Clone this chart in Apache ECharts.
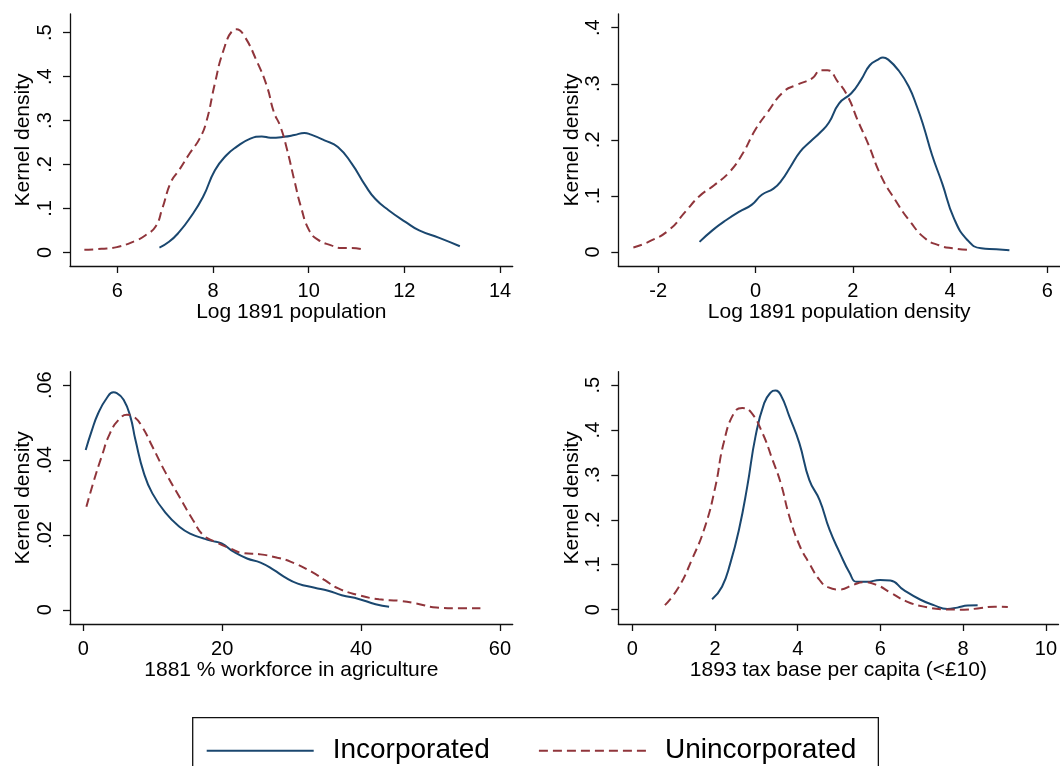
<!DOCTYPE html>
<html>
<head>
<meta charset="utf-8">
<script src="https://cdn.jsdelivr.net/npm/echarts@6/dist/echarts.min.js"></script>
<style>
html,body{margin:0;padding:0;background:#fff;}
#chart{width:1060px;height:766px;}
</style>
</head>
<body>
<div id="chart"></div>
<script>
// ---- Data ----
var seriesNames = ['Incorporated', 'Unincorporated'];
var xTitles = ['Log 1891 population', 'Log 1891 population density', '1881 % workforce in agriculture', '1893 tax base per capita (<£10)'];
var yTitle = 'Kernel density';

var xTicks1 = [6, 8, 10, 12, 14];
var xTicks2 = [-2, 0, 2, 4, 6];
var xTicks3 = [0, 20, 40, 60];
var xTicks4 = [0, 2, 4, 6, 8, 10];
var yTicks1 = [0, 0.1, 0.2, 0.3, 0.4, 0.5];
var yTicks2 = [0, 0.1, 0.2, 0.3, 0.4];
var yTicks3 = [0, 0.02, 0.04, 0.06];
var yTicks4 = [0, 0.1, 0.2, 0.3, 0.4, 0.5];

// Panel 1: Log 1891 population
var p1Inc = [[6.88,0.011],[7.08,0.024],[7.29,0.046],[7.51,0.077],[7.79,0.126],[8.04,0.187],[8.28,0.221],[8.49,0.240],[8.78,0.259],[9.02,0.264],[9.20,0.261],[9.48,0.263],[9.70,0.267],[9.91,0.272],[10.05,0.268],[10.33,0.255],[10.61,0.240],[10.90,0.202],[11.18,0.153],[11.39,0.122],[11.67,0.096],[12.03,0.069],[12.31,0.050],[12.73,0.033],[13.16,0.014]];
var p1Uninc = [[5.31,0.006],[5.67,0.008],[5.99,0.012],[6.37,0.026],[6.59,0.039],[6.80,0.059],[6.94,0.100],[7.12,0.160],[7.29,0.187],[7.51,0.225],[7.72,0.259],[7.86,0.297],[8.04,0.385],[8.21,0.457],[8.42,0.506],[8.49,0.508],[8.64,0.495],[8.92,0.434],[9.13,0.377],[9.27,0.320],[9.41,0.286],[9.55,0.233],[9.70,0.164],[9.84,0.103],[10.01,0.050],[10.19,0.029],[10.47,0.016],[10.69,0.010],[10.90,0.010],[11.11,0.007]];

// Panel 2: Log 1891 population density
var p2Inc = [[-1.15,0.018],[-0.88,0.039],[-0.60,0.057],[-0.33,0.072],[-0.08,0.084],[0.13,0.102],[0.37,0.113],[0.54,0.128],[0.72,0.152],[0.92,0.179],[1.13,0.197],[1.34,0.214],[1.51,0.231],[1.72,0.265],[1.97,0.283],[2.17,0.307],[2.35,0.333],[2.52,0.343],[2.62,0.347],[2.73,0.343],[2.94,0.324],[3.15,0.295],[3.32,0.259],[3.46,0.223],[3.63,0.173],[3.84,0.122],[4.08,0.060],[4.36,0.021],[4.64,0.0065],[4.95,0.005],[5.22,0.003]];
var p2Uninc = [[-2.51,0.008],[-2.20,0.018],[-1.78,0.039],[-1.44,0.072],[-1.16,0.099],[-0.85,0.119],[-0.53,0.143],[-0.26,0.176],[-0.01,0.217],[0.23,0.247],[0.58,0.286],[0.85,0.298],[1.17,0.310],[1.34,0.324],[1.48,0.324],[1.69,0.304],[1.90,0.277],[2.10,0.235],[2.31,0.194],[2.59,0.134],[2.87,0.093],[3.18,0.054],[3.49,0.024],[3.77,0.012],[4.05,0.0065],[4.40,0.0036]];

// Panel 3: 1881 % workforce in agriculture
var p3Inc = [[0.34,0.0427],[1.17,0.0476],[2.14,0.0525],[3.36,0.0565],[4.33,0.0581],[4.82,0.0579],[5.80,0.0561],[6.77,0.0516],[7.50,0.0454],[8.72,0.0365],[9.94,0.0311],[11.88,0.0258],[13.83,0.0222],[15.54,0.0202],[17.24,0.0191],[18.46,0.0184],[19.92,0.0177],[21.63,0.0155],[23.57,0.0137],[25.52,0.0126],[27.47,0.0106],[28.93,0.0088],[30.88,0.0070],[33.32,0.0059],[35.26,0.0051],[37.21,0.0039],[39.65,0.0029],[42.08,0.0015],[44.03,0.0008]];
var p3Uninc = [[0.44,0.0275],[1.41,0.0338],[2.63,0.0409],[3.85,0.0472],[5.07,0.0507],[6.28,0.0521],[7.26,0.0516],[8.47,0.0489],[9.94,0.0436],[11.88,0.0365],[13.83,0.0302],[15.78,0.0240],[17.24,0.0200],[18.94,0.0182],[21.14,0.0164],[23.08,0.0151],[25.52,0.0148],[27.95,0.0139],[29.90,0.0128],[32.83,0.0102],[34.78,0.0079],[36.72,0.0057],[39.65,0.0039],[42.57,0.0028],[45.49,0.0024],[47.93,0.0017],[50.85,0.0006],[53.77,0.0004],[57.18,0.0004]];

// Panel 4: 1893 tax base per capita (<£10)
var p4Inc = [[1.93,0.023],[2.17,0.051],[2.37,0.103],[2.58,0.178],[2.78,0.274],[2.98,0.386],[3.19,0.460],[3.35,0.484],[3.46,0.488],[3.59,0.478],[3.80,0.430],[4.04,0.371],[4.28,0.289],[4.53,0.244],[4.77,0.178],[5.02,0.126],[5.26,0.081],[5.42,0.062],[5.67,0.062],[5.99,0.066],[6.24,0.065],[6.56,0.044],[6.97,0.022],[7.29,0.010],[7.62,0.0015],[7.86,0.0045],[8.11,0.009],[8.35,0.0097]];
var p4Uninc = [[0.79,0.010],[1.11,0.048],[1.44,0.111],[1.76,0.185],[2.01,0.274],[2.21,0.371],[2.46,0.438],[2.66,0.449],[2.86,0.441],[3.15,0.393],[3.39,0.334],[3.59,0.282],[3.80,0.207],[4.04,0.144],[4.28,0.103],[4.53,0.066],[4.73,0.050],[5.02,0.045],[5.34,0.055],[5.59,0.061],[5.91,0.055],[6.24,0.038],[6.64,0.018],[7.05,0.0067],[7.54,0.0007],[8.02,0.0],[8.43,0.0037],[8.76,0.0067],[9.08,0.006]];

// ---- Layout / style ----
var NAVY = '#1a476f', MAROON = '#90353b';
var FONT = '"Liberation Sans", Arial, sans-serif';
var grids = [
  {left: 70,    top: 14,    width: 442.7, height: 252},
  {left: 618.3, top: 14,    width: 442,   height: 252},
  {left: 70,    top: 371.7, width: 442.7, height: 252.3},
  {left: 618.3, top: 371.7, width: 442,   height: 252.3}
];
var xRanges = [[5.01, 14.265], [-2.82, 6.26], [-1.92, 61.83], [-0.337, 10.305]];
var yRanges = [[-0.031, 0.5426], [-0.025, 0.4244], [-0.0038, 0.0636], [-0.032, 0.530]];
var xTickSets = [xTicks1, xTicks2, xTicks3, xTicks4];
var yTickSets = [yTicks1, yTicks2, yTicks3, yTicks4];
var incData = [p1Inc, p2Inc, p3Inc, p4Inc];
var unincData = [p1Uninc, p2Uninc, p3Uninc, p4Uninc];

function fmtY(v) {
  if (v === 0) return '0';
  var s = String(Math.round(v * 1000) / 1000);
  return s.replace(/^0\./, '.');
}

var axisLineStyle = {color: '#111', width: 1.3};
var xAxes = [], yAxes = [], series = [];
for (var i = 0; i < 4; i++) {
  xAxes.push({
    type: 'value', gridIndex: i, min: xRanges[i][0], max: xRanges[i][1],
    axisLine: {show: true, onZero: false, lineStyle: axisLineStyle},
    axisTick: {show: true, length: 7, customValues: xTickSets[i], lineStyle: axisLineStyle},
    axisLabel: {customValues: xTickSets[i], fontSize: 20, margin: 15, color: '#000', fontFamily: FONT},
    splitLine: {show: false},
    name: xTitles[i], nameLocation: 'middle', nameGap: 35,
    nameTextStyle: {fontSize: 21, color: '#000', fontFamily: FONT}
  });
  yAxes.push({
    type: 'value', gridIndex: i, min: yRanges[i][0], max: yRanges[i][1],
    axisLine: {show: true, onZero: false, lineStyle: axisLineStyle},
    axisTick: {show: true, length: 7, customValues: yTickSets[i], lineStyle: axisLineStyle},
    axisLabel: {customValues: yTickSets[i], fontSize: 20, margin: 15, rotate: 90, color: '#000', fontFamily: FONT, formatter: fmtY},
    splitLine: {show: false},
    name: yTitle, nameLocation: 'middle', nameGap: 36,
    nameTextStyle: {fontSize: 21, color: '#000', fontFamily: FONT}
  });
  series.push({
    name: seriesNames[0], type: 'line', xAxisIndex: i, yAxisIndex: i,
    data: incData[i], smooth: 0.5, symbol: 'none',
    lineStyle: {color: NAVY, width: 2}, itemStyle: {color: NAVY}, silent: true
  });
  series.push({
    name: seriesNames[1], type: 'line', xAxisIndex: i, yAxisIndex: i,
    data: unincData[i], smooth: 0.5, symbol: 'none',
    lineStyle: {color: MAROON, width: 2, type: [9, 5]}, itemStyle: {color: MAROON}, silent: true
  });
}

var chart = echarts.init(document.getElementById('chart'), null, {renderer: 'canvas'});
chart.setOption({
  animation: false,
  backgroundColor: '#fff',
  grid: grids,
  xAxis: xAxes,
  yAxis: yAxes,
  series: series,
  legend: {
    data: seriesNames,
    left: 192.7, top: 717.7,
    orient: 'horizontal',
    padding: [19, 22, 30, 13],
    borderColor: '#111', borderWidth: 1.3,
    itemWidth: 107, itemHeight: 20, itemGap: 48,
    itemStyle: {opacity: 0},
    textStyle: {fontSize: 28, color: '#000', fontFamily: FONT, padding: [0, 0, 10, 14]},
    selectedMode: false
  }
});
</script>
</body>
</html>
